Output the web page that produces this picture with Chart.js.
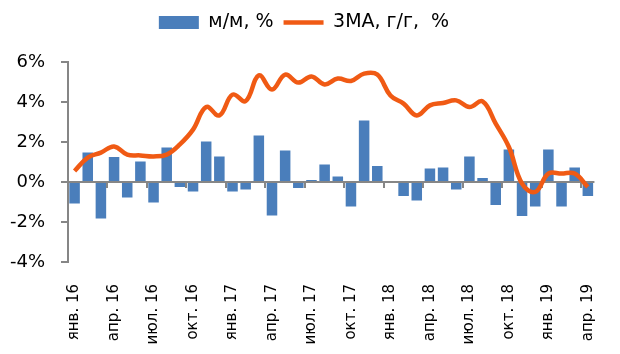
<!DOCTYPE html>
<html>
<head>
<meta charset="utf-8">
<script src="https://cdn.jsdelivr.net/npm/chart.js@4.4.0/dist/chart.umd.min.js"></script>
<style>
  html, body { margin: 0; background: #fff; }
  #wrap { width: 620px; height: 354px; }
</style>
</head>
<body>
<div id="wrap"><canvas id="chart"></canvas></div>
<script>
// monthly categories, Jan 2016 .. Apr 2019
const months = [
    'янв. 16', 'фев. 16', 'мар. 16', 'апр. 16', 'май. 16', 'июн. 16',
    'июл. 16', 'авг. 16', 'сен. 16', 'окт. 16', 'ноя. 16', 'дек. 16',
    'янв. 17', 'фев. 17', 'мар. 17', 'апр. 17', 'май. 17', 'июн. 17',
    'июл. 17', 'авг. 17', 'сен. 17', 'окт. 17', 'ноя. 17', 'дек. 17',
    'янв. 18', 'фев. 18', 'мар. 18', 'апр. 18', 'май. 18', 'июн. 18',
    'июл. 18', 'авг. 18', 'сен. 18', 'окт. 18', 'ноя. 18', 'дек. 18',
    'янв. 19', 'фев. 19', 'мар. 19', 'апр. 19'
];

// м/м, %
const mom = [
    -1.08, 1.47, -1.83, 1.25, -0.78, 1.02, -1.03, 1.72, -0.25, -0.47, 2.03, 1.27,
    -0.47, -0.38, 2.33, -1.67, 1.57, -0.30, 0.10, 0.88, 0.27, -1.22, 3.08, 0.80,
    0.00, -0.70, -0.93, 0.67, 0.73, -0.38, 1.27, 0.20, -1.15, 1.63, -1.70, -1.22,
    1.63, -1.22, 0.72, -0.70
];

// 3МА, г/г, %
const ma3 = [
    0.55, 1.22, 1.47, 1.78, 1.37, 1.33, 1.28, 1.37, 1.88, 2.62, 3.75, 3.33,
    4.37, 4.05, 5.33, 4.62, 5.37, 4.97, 5.28, 4.88, 5.17, 5.05, 5.42, 5.37,
    4.33, 3.92, 3.33, 3.83, 3.95, 4.08, 3.75, 4.03, 2.92, 1.75, -0.08, -0.50,
    0.42, 0.42, 0.42, -0.25
];

const yMin = -4, yMax = 6, yStep = 2;

const axisGray = '#868686';

// zero axis line with quarter tick marks, drawn over the bars but under the line
const zeroAxis = {
    id: 'zeroAxis',
    afterDatasetDraw(chart, args) {
        if (args.index !== 0) return;
        const { ctx, chartArea, scales: { x, y } } = chart;
        const y0 = Math.round(y.getPixelForValue(0));
        const half = (x.getPixelForValue(1) - x.getPixelForValue(0)) / 2;
        ctx.save();
        ctx.strokeStyle = axisGray;
        ctx.lineWidth = 2;
        ctx.beginPath();
        ctx.moveTo(chartArea.left, y0);
        ctx.lineTo(chartArea.right, y0);
        ctx.stroke();
        for (let i = 3; i < months.length; i += 3) {
            const px = Math.round(x.getPixelForValue(i) - half);
            ctx.beginPath();
            ctx.moveTo(px, y0);
            ctx.lineTo(px, y0 + 6);
            ctx.stroke();
        }
        ctx.restore();
    }
};

// extra room under the legend
const legendGap = {
    id: 'legendGap',
    afterInit(chart) {
        const fit = chart.legend.fit;
        chart.legend.fit = function() {
            fit.call(this);
            this.height += 20;
        };
    }
};

new Chart(document.getElementById('chart'), {
    data: {
        labels: months,
        datasets: [
            {
                type: 'bar',
                label: 'м/м, %',
                data: mom,
                backgroundColor: '#4a7ebb',
                borderWidth: 0,
                barPercentage: 0.8,
                categoryPercentage: 1.0,
                pointStyle: 'rect',
                order: 1
            },
            {
                type: 'line',
                label: '3МА, г/г,  %',
                data: ma3,
                borderColor: '#f05a14',
                backgroundColor: '#f05a14',
                borderWidth: 4.5,
                pointRadius: 0,
                tension: 0.4,
                pointStyle: 'line',
                order: 0
            }
        ]
    },
    options: {
        responsive: true,
        maintainAspectRatio: false,
        animation: false,
        layout: { padding: { top: 3, right: 12, left: 0, bottom: 0 } },
        plugins: {
            legend: {
                position: 'top',
                labels: {
                    sort: (a, b) => a.datasetIndex - b.datasetIndex,
                    usePointStyle: true,
                    pointStyleWidth: 40,
                    boxHeight: 13,
                    padding: 10,
                    color: '#000',
                    font: { family: 'DejaVu Sans', size: 19 }
                }
            },
            tooltip: { enabled: false }
        },
        scales: {
            x: {
                offset: true,
                grid: { display: false },
                border: { display: false },
                ticks: {
                    autoSkip: false,
                    minRotation: 90,
                    maxRotation: 90,
                    padding: 14,
                    color: '#000',
                    font: { family: 'DejaVu Sans', size: 15 },
                    callback: function(val, i) {
                        return i % 3 === 0 ? this.getLabelForValue(val) : '';
                    }
                },
                afterFit: scale => { scale.height = 92; }
            },
            y: {
                min: yMin,
                max: yMax,
                grid: {
                    drawOnChartArea: false,
                    tickLength: 7,
                    tickColor: axisGray,
                    lineWidth: 2
                },
                border: { display: true, color: axisGray, width: 2 },
                ticks: {
                    stepSize: yStep,
                    padding: 16,
                    color: '#000',
                    font: { family: 'DejaVu Sans', size: 18 },
                    callback: v => v + '%'
                },
                afterFit: scale => { scale.width = 68; }
            }
        }
    },
    plugins: [zeroAxis, legendGap]
});
</script>
</body>
</html>
